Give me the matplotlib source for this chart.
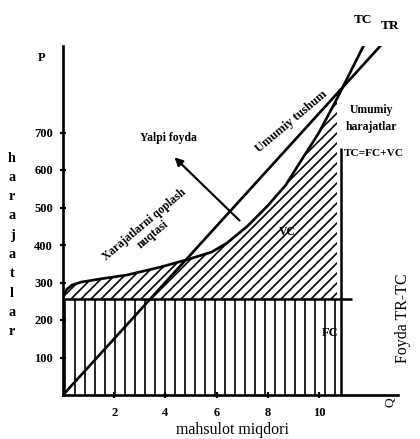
# -*- coding: utf-8 -*-
"""
Umumiy harajatlar / umumiy tushum grafigi (TC, TR, FC, VC)
"""

#%% Importing packages

import matplotlib
matplotlib.use('Agg')
import matplotlib.pyplot as plt
import numpy as np

#%% Data

# Total revenue, straight line from the origin
q_tr= np.array([0, 12.65])
tr= np.array([0, 950])

# Total cost curve TC = FC + VC
q_tc= np.array([0, 0.05, 0.15, 0.35, 0.7, 1.5, 2.5, 3.8, 4.8, 5.8, 6.4, 7.2, 8.0, 8.7, 9.3, 10.0, 10.7, 12.1])
tc= np.array([256, 268, 282, 293, 301, 310, 320, 341, 360, 381, 405, 450, 505, 560, 625, 700, 790, 980])

# Fixed costs
fc= 256
q_fc_end= 11.3

# End of the shaded production range and height of its right edge
q_end= 10.85
edge_top= 660

y_ticks= [100, 200, 300, 400, 500, 600, 700]
x_ticks= [2, 4, 6, 8, 10]

#%% Figure

W, H, dpi= 420, 439, 120
plt.rcParams['font.family']= ['Liberation Serif', 'DejaVu Serif']
plt.rcParams['font.weight']= 'bold'
plt.rcParams['hatch.linewidth']= 1.0

fig= plt.figure(figsize=(W/dpi, H/dpi), dpi= dpi)

# axes placed so that Q=0 -> x 63px, V=0 -> y 395px
x0, y0= 63, 395
ax= fig.add_axes([x0/W, 1-y0/H, 335.4/W, 348.75/H])
ax.set_xlim(0, 13.1)
ax.set_ylim(0, 930)

def fpx(x, y):
    # pixel position -> figure fraction
    return x/W, 1-y/H

# FC area (vertical hatch) and VC area (diagonal hatch)
ax.fill_between([0, q_end], 0, fc, hatch='||', facecolor='none', edgecolor='black', linewidth=0)
m= q_tc <= 10.7
ax.fill_between(q_tc[m], fc, tc[m], hatch='////', facecolor='none', edgecolor='black', linewidth=0)

ax.vlines(q_end, 0, edge_top, color='black', linewidth= 1.5)
ax.hlines(fc, 0, q_fc_end, color='black', linewidth= 1.5)

ax.plot(q_tc, tc, '-', color='black', linewidth= 1.6)
ax.plot(q_tr, tr, '-', color='black', linewidth= 1.6)

# Yalpi foyda arrow
ax.annotate('', xy=(4.26, 640), xytext=(6.99, 459),
            arrowprops=dict(arrowstyle='-|>', color='black', lw=1.3, mutation_scale=10))

# Axes styling
for s in ['top', 'right']:
    ax.spines[s].set_visible(False)
for s in ['left', 'bottom']:
    ax.spines[s].set_linewidth(1.6)

ax.set_yticks(y_ticks)
ax.set_xticks(x_ticks)
ax.tick_params(axis='y', direction='inout', length=4, width=1.3, pad=4, labelsize=7.5)
ax.tick_params(axis='x', direction='inout', length=4, width=1.3, pad=5, labelsize=7.5)

# Texts
fig.text(*fpx(42, 58), 'P', ha='center', va='center', fontsize=7.5)
for i, ch in enumerate('harajatlar'):
    fig.text(*fpx(12, 158+i*19.3), ch, ha='center', va='center', fontsize=8.5)

fig.text(*fpx(232, 430), 'mahsulot miqdori', ha='center', va='center', fontsize=9.5, fontweight='normal')
fig.text(*fpx(390, 402), 'Q', ha='center', va='center', fontsize=8, fontweight='normal', rotation=90)
fig.text(*fpx(403, 318), 'Foyda TR-TC', ha='center', va='center', fontsize=9.5, fontweight='normal', rotation=90)

fig.text(*fpx(363, 20), 'TC', ha='center', va='center', fontsize=8)
fig.text(*fpx(390, 26), 'TR', ha='center', va='center', fontsize=8)
fig.text(*fpx(371, 110), 'Umumiy', ha='center', va='center', fontsize=7)
fig.text(*fpx(371, 127), 'harajatlar', ha='center', va='center', fontsize=7)
fig.text(*fpx(374, 154), 'TC=FC+VC', ha='center', va='center', fontsize=6.8)

fig.text(*fpx(291, 122), 'Umumiy tushum', ha='center', va='center', fontsize=7.5, rotation=40)
fig.text(*fpx(168, 138), 'Yalpi foyda', ha='center', va='center', fontsize=7)
fig.text(*fpx(149, 230), 'Xarajatlarni qoplash\nnuqtasi', ha='center', va='center',
         fontsize=7, rotation=40, linespacing=1.1, rotation_mode='anchor')

fig.text(*fpx(287, 232), 'VC', ha='center', va='center', fontsize=7)
fig.text(*fpx(330, 333), 'FC', ha='center', va='center', fontsize=7.5)

plt.savefig('out.png', dpi= dpi)
